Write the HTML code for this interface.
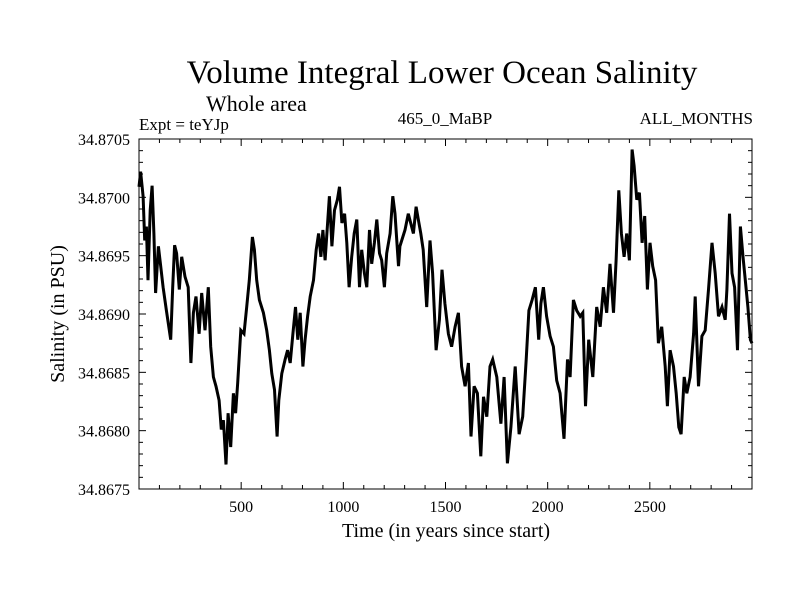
<!DOCTYPE html>
<html><head><meta charset="utf-8"><style>
body{margin:0;background:#fff;}
svg{display:block;font-family:"Liberation Serif",serif;}
</style></head><body>
<svg id="chart" width="800" height="600" viewBox="0 0 800 600">
<rect width="800" height="600" fill="#fff"/>
<text x="442" y="83" font-size="33" text-anchor="middle">Volume Integral Lower Ocean Salinity</text>
<text x="206" y="111" font-size="22">Whole area</text>
<text x="139" y="130" font-size="17">Expt = teYJp</text>
<text x="445" y="124" font-size="17" text-anchor="middle">465_0_MaBP</text>
<text x="753" y="124" font-size="17" text-anchor="end">ALL_MONTHS</text>
<text transform="translate(64,314) rotate(-90)" font-size="20" text-anchor="middle">Salinity (in PSU)</text>
<text x="446" y="537" font-size="20" text-anchor="middle">Time (in years since start)</text>
<g id="axes"></g>
<path id="series" fill="none" stroke="#000" stroke-width="3" stroke-linejoin="miter"/>
<rect x="139" y="139" width="613" height="350" fill="none" stroke="#000" stroke-width="1"/>
</svg>
<script>
const years=[0,8,20,28,36,44,55,64,73,81,95,106,118,134,155,165,174,184,197,209,225,241,254,266,279,294,307,323,339,351,364,377,392,403,413,426,436,449,462,473,483,498,514,527,540,555,565,576,589,609,625,638,650,663,676,684,699,715,727,740,753,766,777,789,802,813,825,838,854,867,879,890,900,911,923,932,944,957,971,981,993,1006,1017,1028,1041,1053,1066,1079,1090,1103,1115,1128,1139,1152,1164,1177,1188,1201,1212,1229,1242,1253,1270,1277,1302,1318,1343,1356,1367,1379,1391,1408,1424,1437,1454,1470,1483,1497,1514,1530,1547,1563,1579,1596,1612,1625,1640,1656,1673,1686,1702,1718,1731,1751,1771,1787,1803,1820,1841,1860,1878,1895,1908,1924,1940,1956,1967,1979,1995,2012,2028,2044,2061,2080,2097,2110,2126,2142,2159,2172,2185,2201,2221,2240,2257,2273,2289,2305,2322,2335,2348,2361,2374,2387,2400,2413,2423,2436,2449,2462,2475,2488,2501,2514,2528,2542,2558,2575,2586,2599,2616,2629,2642,2653,2668,2681,2697,2714,2722,2738,2755,2771,2787,2804,2820,2836,2853,2869,2877,2890,2902,2915,2929,2943,2956,2967,2980,2992,3000];
const salinity=[34.87009,34.87022,34.87001,34.86963,34.86975,34.86929,34.86989,34.87010,34.86969,34.86918,34.86958,34.86941,34.86923,34.86903,34.86878,34.86923,34.86959,34.86952,34.86921,34.86949,34.86932,34.86923,34.86858,34.86901,34.86915,34.86883,34.86918,34.86886,34.86923,34.86872,34.86846,34.86838,34.86826,34.86801,34.86809,34.86771,34.86815,34.86786,34.86832,34.86815,34.86841,34.86886,34.86883,34.86906,34.86929,34.86966,34.86955,34.86929,34.86912,34.86901,34.86886,34.86869,34.86849,34.86835,34.86795,34.86826,34.86849,34.86861,34.86869,34.86858,34.86883,34.86906,34.86878,34.86901,34.86855,34.86878,34.86898,34.86915,34.86929,34.86955,34.86969,34.86949,34.86972,34.86946,34.86978,34.87001,34.86958,34.86989,34.86998,34.87009,34.86978,34.86986,34.86961,34.86923,34.86949,34.86969,34.86981,34.86923,34.86955,34.86935,34.86923,34.86972,34.86943,34.86961,34.86981,34.86952,34.86946,34.86923,34.86952,34.86969,34.87001,34.86986,34.86941,34.86958,34.86972,34.86986,34.86969,34.86992,34.86981,34.86969,34.86955,34.86906,34.86963,34.86935,34.86869,34.86895,34.86938,34.86909,34.86883,34.86872,34.86889,34.86901,34.86855,34.86838,34.86858,34.86795,34.86838,34.86832,34.86778,34.86829,34.86812,34.86855,34.86861,34.86846,34.86806,34.86846,34.86772,34.86803,34.86855,34.86797,34.86812,34.86861,34.86903,34.86912,34.86923,34.86878,34.86909,34.86923,34.86898,34.86881,34.86872,34.86843,34.86832,34.86793,34.86861,34.86846,34.86912,34.86903,34.86898,34.86901,34.86821,34.86878,34.86846,34.86906,34.86889,34.86923,34.86901,34.86943,34.86901,34.86946,34.87006,34.86969,34.86949,34.86969,34.86946,34.87041,34.87027,34.86998,34.87004,34.86961,34.86984,34.86921,34.86961,34.86941,34.86929,34.86875,34.86889,34.86855,34.86821,34.86869,34.86855,34.86832,34.86803,34.86797,34.86846,34.86832,34.86846,34.86883,34.86915,34.86838,34.86881,34.86886,34.86921,34.86961,34.86935,34.86898,34.86906,34.86895,34.86921,34.86986,34.86935,34.86923,34.86869,34.86975,34.86949,34.86929,34.86906,34.86878,34.86875];
const xTickLabels=[500,1000,1500,2000,2500];
const yTickLabels=["34.8675","34.8680","34.8685","34.8690","34.8695","34.8700","34.8705"];
const X0=139,X1=752,Y0=489,Y1=139,XMIN=0,XMAX=3000,YMIN=34.8675,YMAX=34.8705;
function sx(v){return X0+(v-XMIN)/(XMAX-XMIN)*(X1-X0);}
function sy(v){return Y0-(v-YMIN)/(YMAX-YMIN)*(Y0-Y1);}
const NS="http://www.w3.org/2000/svg";
const axes=document.getElementById('axes');
function line(x1,y1,x2,y2,name){const l=document.createElementNS(NS,'line');l.setAttribute('x1',x1);l.setAttribute('y1',y1);l.setAttribute('x2',x2);l.setAttribute('y2',y2);l.setAttribute('stroke','#000');l.setAttribute('stroke-width','1');


axes.appendChild(l);}
for(let yr=100;yr<XMAX;yr+=100){const x=sx(yr);const len=yr%500===0?7:4;line(x,Y0,x,Y0-len,'x-tick');line(x,Y1,x,Y1+len,'x-tick-top');}
for(let k=1;k<30;k++){const v=YMIN+k*0.0001;const y=sy(v);const len=k%5===0?7:4;line(X0,y,X0+len,y,'y-tick');line(X1,y,X1-len,y,'y-tick-right');}
xTickLabels.forEach(v=>{const t=document.createElementNS(NS,'text');t.setAttribute('x',sx(v));t.setAttribute('y',512);t.setAttribute('font-size','16');t.setAttribute('text-anchor','middle');t.textContent=v;


axes.appendChild(t);});
yTickLabels.forEach(s=>{const t=document.createElementNS(NS,'text');t.setAttribute('x',130);t.setAttribute('y',sy(parseFloat(s))+6);t.setAttribute('font-size','16');t.setAttribute('text-anchor','end');t.textContent=s;


axes.appendChild(t);});
let d='';years.forEach((yr,i)=>{d+=(i?'L':'M')+sx(yr).toFixed(1)+','+sy(salinity[i]).toFixed(1);});
document.getElementById('series').setAttribute('d',d);
</script>
</body></html>
